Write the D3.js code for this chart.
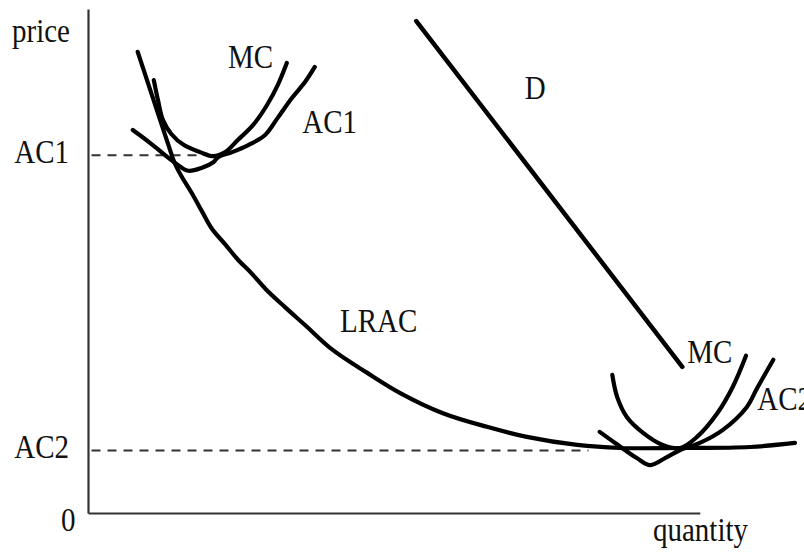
<!DOCTYPE html>
<html>
<head>
<meta charset="utf-8">
<script src="https://cdn.jsdelivr.net/npm/d3@7"></script>
<style>
  html, body { margin: 0; padding: 0; background: #fff; }
  svg { display: block; }
  text { font-family: "Liberation Serif", "Times New Roman", serif; fill: #111; }
</style>
</head>
<body>
<svg id="chart" width="804" height="556"></svg>
<script>
// ---- data (quantity, price in chart units 0..100) ----
const priceLevels = [71.0, 12.4];
const priceLabels = ["AC1", "AC2"];

const lracQ = [7.1, 8.9, 10.3, 11.4, 12.4, 13.4, 14.9, 16.3, 17.7, 19.6, 21.4, 23.4, 25.4, 28.1, 31.0, 35.0, 39.9, 44.6, 50.7, 57.0, 62.7, 69.9, 76.0, 84.6, 94.6, 101.0];
const lracP = [91.5, 83.9, 78.0, 73.4, 69.4, 66.7, 63.3, 59.8, 56.4, 53.3, 50.3, 47.5, 44.4, 40.9, 37.3, 32.3, 27.8, 23.8, 19.8, 17.1, 15.1, 13.5, 12.9, 12.9, 13.1, 13.9];

const mc1Q = [9.4, 10.0, 10.7, 11.9, 13.7, 16.0, 17.9, 19.6, 21.4, 23.6, 25.6, 27.1, 28.4];
const mc1P = [85.9, 81.9, 78.0, 75.2, 73.0, 71.6, 70.8, 71.6, 74.0, 77.0, 81.0, 84.9, 89.3];

const ac1Q = [6.4, 8.9, 11.0, 12.6, 14.3, 16.3, 17.9, 18.6, 20.6, 22.9, 25.3, 27.1, 29.1, 31.0, 32.4];
const ac1P = [76.0, 73.4, 71.0, 69.3, 67.9, 68.5, 69.6, 70.6, 71.6, 73.0, 75.0, 78.4, 82.3, 85.5, 88.5];

const mc2Q = [74.9, 75.6, 77.0, 79.3, 82.1, 84.6, 87.0, 89.9, 92.1, 94.0];
const mc2P = [27.4, 23.0, 19.0, 15.9, 13.5, 12.9, 15.1, 19.8, 25.0, 31.2];

const ac2Q = [73.1, 75.3, 78.4, 80.3, 82.7, 84.6, 87.4, 90.7, 94.1, 95.6, 97.9];
const ac2P = [16.1, 13.9, 10.9, 9.5, 11.1, 12.5, 13.9, 16.5, 21.0, 24.8, 30.4];

const demandQ = [46.9, 84.9];
const demandP = [97.6, 29.0];

const curveNames = ["MC", "AC1", "D", "LRAC", "MC", "AC2"];
const curveLabelQ = [20.0, 30.6, 62.4, 36.0, 85.6, 95.6];
const curveLabelP = [88.3, 75.4, 82.1, 35.9, 29.8, 20.4];

const axisTitles = ["price", "quantity", "0"];

// ---- scales ----
const svg = d3.select("#chart");
const xs = d3.scaleLinear().domain([0, 100]).range([88, 788]);
const ys = d3.scaleLinear().domain([0, 100]).range([513, 9]);
const xAxisEnd = 87.4;

const zip = (a, b) => a.map((v, i) => [v, b[i]]);
const line = d3.line().x(d => xs(d[0])).y(d => ys(d[1])).curve(d3.curveCatmullRom.alpha(0.5));

// ---- dashed price guides ----
const dashEnds = [16.5, 71.5];
svg.selectAll("line.guide").data(priceLevels).join("line")
  .attr("class", "guide")
  .attr("x1", xs(0.5)).attr("x2", (d, i) => xs(dashEnds[i]))
  .attr("y1", d => ys(d)).attr("y2", d => ys(d))
  .attr("stroke", "#333").attr("stroke-width", 2)
  .attr("stroke-dasharray", "9,7");

// ---- axes ----
const yAxis = d3.axisLeft(ys).tickValues(priceLevels)
  .tickFormat((d, i) => priceLabels[i]).tickSize(0).tickPadding(19).tickSizeOuter(0);
const gy = svg.append("g").attr("transform", `translate(${xs(0)},0)`).call(yAxis);
gy.select(".domain").attr("stroke", "#333").attr("stroke-width", 2.2);
gy.selectAll(".tick text")
  .attr("dy", null)
  .attr("font-size", 29)
  .attr("font-family", "Liberation Serif, serif")
  .attr("fill", "#111")
  .attr("transform", "translate(0,7) scale(1,1.15)");

const xAxisScale = xs.copy().domain([0, xAxisEnd]).range([xs(0), xs(xAxisEnd)]);
const gx = svg.append("g").attr("transform", `translate(0,${ys(0)})`)
  .call(d3.axisBottom(xAxisScale).tickValues([]).tickSizeOuter(0));
gx.select(".domain").attr("stroke", "#333").attr("stroke-width", 2.2);

function label(txt, px, py, anchor) {
  svg.append("text")
    .attr("transform", `translate(${px},${py}) scale(1,1.15)`)
    .attr("text-anchor", anchor || "start")
    .attr("font-size", 29)
    .text(txt);
}
label(axisTitles[0], 12, 42);
label(axisTitles[1], 653, 541);
label(axisTitles[2], 61, 531);

// ---- curves ----
const curves = [zip(lracQ, lracP), zip(mc1Q, mc1P), zip(ac1Q, ac1P), zip(mc2Q, mc2P), zip(ac2Q, ac2P)];
svg.selectAll("path.curve").data(curves).join("path")
  .attr("class", "curve")
  .attr("d", line)
  .attr("fill", "none").attr("stroke", "#000")
  .attr("stroke-width", 4.2).attr("stroke-linecap", "round").attr("stroke-linejoin", "round");

svg.append("path")
  .attr("d", d3.line().x(d => xs(d[0])).y(d => ys(d[1]))(zip(demandQ, demandP)))
  .attr("fill", "none").attr("stroke", "#000")
  .attr("stroke-width", 4.5).attr("stroke-linecap", "round");

// ---- curve labels ----
curveNames.forEach((n, i) => label(n, xs(curveLabelQ[i]), ys(curveLabelP[i])));
</script>
</body>
</html>
